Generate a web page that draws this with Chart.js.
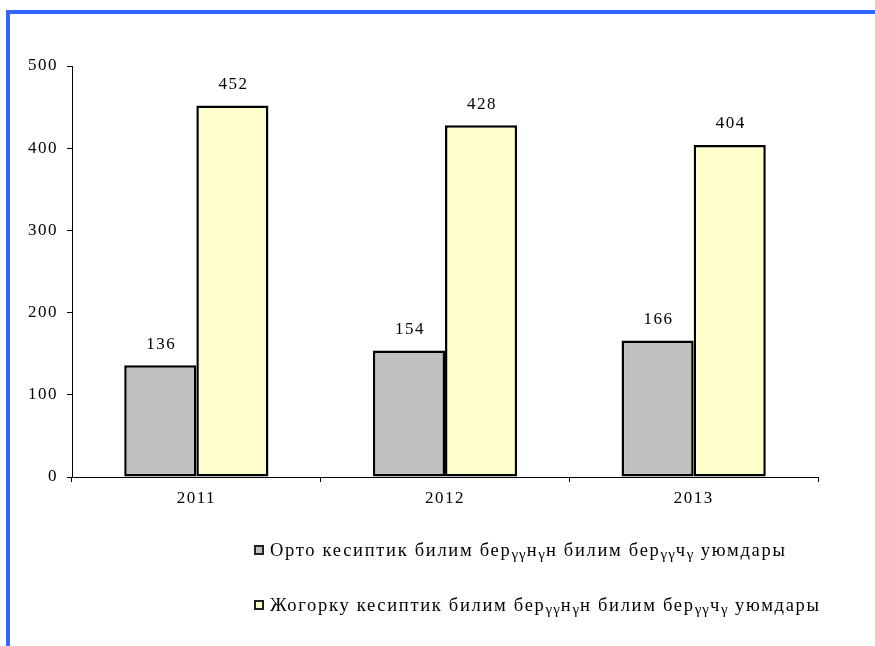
<!DOCTYPE html>
<html>
<head>
<meta charset="utf-8">
<script src="https://cdn.jsdelivr.net/npm/chart.js@4"></script>
<style>
  body { margin: 0; background: #fff; }
  #wrap { position: relative; width: 875px; height: 646px; }
  #frame { position: absolute; left: 6px; top: 10px; right: 0; bottom: 0;
           border-top: 4px solid #3366ff; border-left: 4px solid #3366ff; }
  .leg { position: absolute; left: 254px; font-family: "Liberation Serif", serif;
         font-size: 18.5px; line-height: 22px; letter-spacing: 1.7px; color: #000; white-space: nowrap; }
  .leg i { display: inline-block; width: 6px; height: 6px; border: 2px solid #222;
           margin-right: 6px; vertical-align: 1px; }
  .leg sub { font-size: 15px; vertical-align: -3px; letter-spacing: 1px; }
</style>
</head>
<body>
<div id="wrap">
  <canvas id="barChart" width="875" height="646"></canvas>
  <div id="frame"></div>
  <div class="leg" style="top:539px"><i style="background:#c0c0c0"></i>Орто кесиптик билим бер<sub>γγ</sub>н<sub>γ</sub>н билим бер<sub>γγ</sub>ч<sub>γ</sub> уюмдары</div>
  <div class="leg" style="top:594px"><i style="background:#ffffcc"></i>Жогорку кесиптик билим бер<sub>γγ</sub>н<sub>γ</sub>н билим бер<sub>γγ</sub>ч<sub>γ</sub> уюмдары</div>
</div>
<script>
var years = ["2011", "2012", "2013"];
var orto = [136, 154, 166];
var jogorku = [452, 428, 404];

// шрифт в оригинале шире, добавим разрядку
var spacing = {
  id: "spacing",
  beforeLayout: function(chart) { chart.ctx.letterSpacing = "1.5px"; },
  beforeDraw: function(chart) { chart.ctx.letterSpacing = "1.5px"; }
};

// подписи над столбиками
var barLabels = {
  id: "barLabels",
  afterDatasetsDraw: function(chart) {
    var ctx = chart.ctx;
    ctx.save();
    ctx.font = "17px 'Liberation Serif'";
    ctx.fillStyle = "#000";
    ctx.textAlign = "center";
    ctx.textBaseline = "middle";
    chart.data.datasets.forEach(function(ds, i) {
      chart.getDatasetMeta(i).data.forEach(function(bar, j) {
        ctx.fillText(ds.data[j], bar.x + 1, bar.y - 21);
      });
    });
    ctx.restore();
  }
};

var ctx = document.getElementById("barChart").getContext("2d");
var barChart = new Chart(ctx, {
  type: "bar",
  data: {
    labels: years,
    datasets: [{
      data: orto,
      backgroundColor: "#c0c0c0",
      borderColor: "#000",
      borderWidth: 2.5,
      borderSkipped: false,
      barPercentage: 1,
      categoryPercentage: 0.58
    }, {
      data: jogorku,
      backgroundColor: "#ffffcc",
      borderColor: "#000",
      borderWidth: 2.5,
      borderSkipped: false,
      barPercentage: 1,
      categoryPercentage: 0.58
    }]
  },
  options: {
    responsive: false,
    animation: false,
    layout: {
      padding: { left: 0, right: 57, top: 66, bottom: 129 }
    },
    plugins: {
      legend: { display: false },
      tooltip: { enabled: false }
    },
    scales: {
      y: {
        min: 0,
        max: 500,
        ticks: { stepSize: 100, color: "#000", padding: 9,
                 font: { family: "Liberation Serif", size: 17 } },
        grid: { drawOnChartArea: false, tickLength: 5, color: "#000" },
        border: { color: "#000", width: 1 },
        afterFit: function(scale) { scale.width = 72; }
      },
      x: {
        ticks: { color: "#000", padding: 6,
                 font: { family: "Liberation Serif", size: 17 } },
        grid: { drawOnChartArea: false, tickLength: 5, color: "#000", offset: true },
        border: { color: "#000", width: 1 },
        afterFit: function(scale) { scale.height = 40; }
      }
    }
  },
  plugins: [spacing, barLabels]
});
</script>
</body>
</html>
